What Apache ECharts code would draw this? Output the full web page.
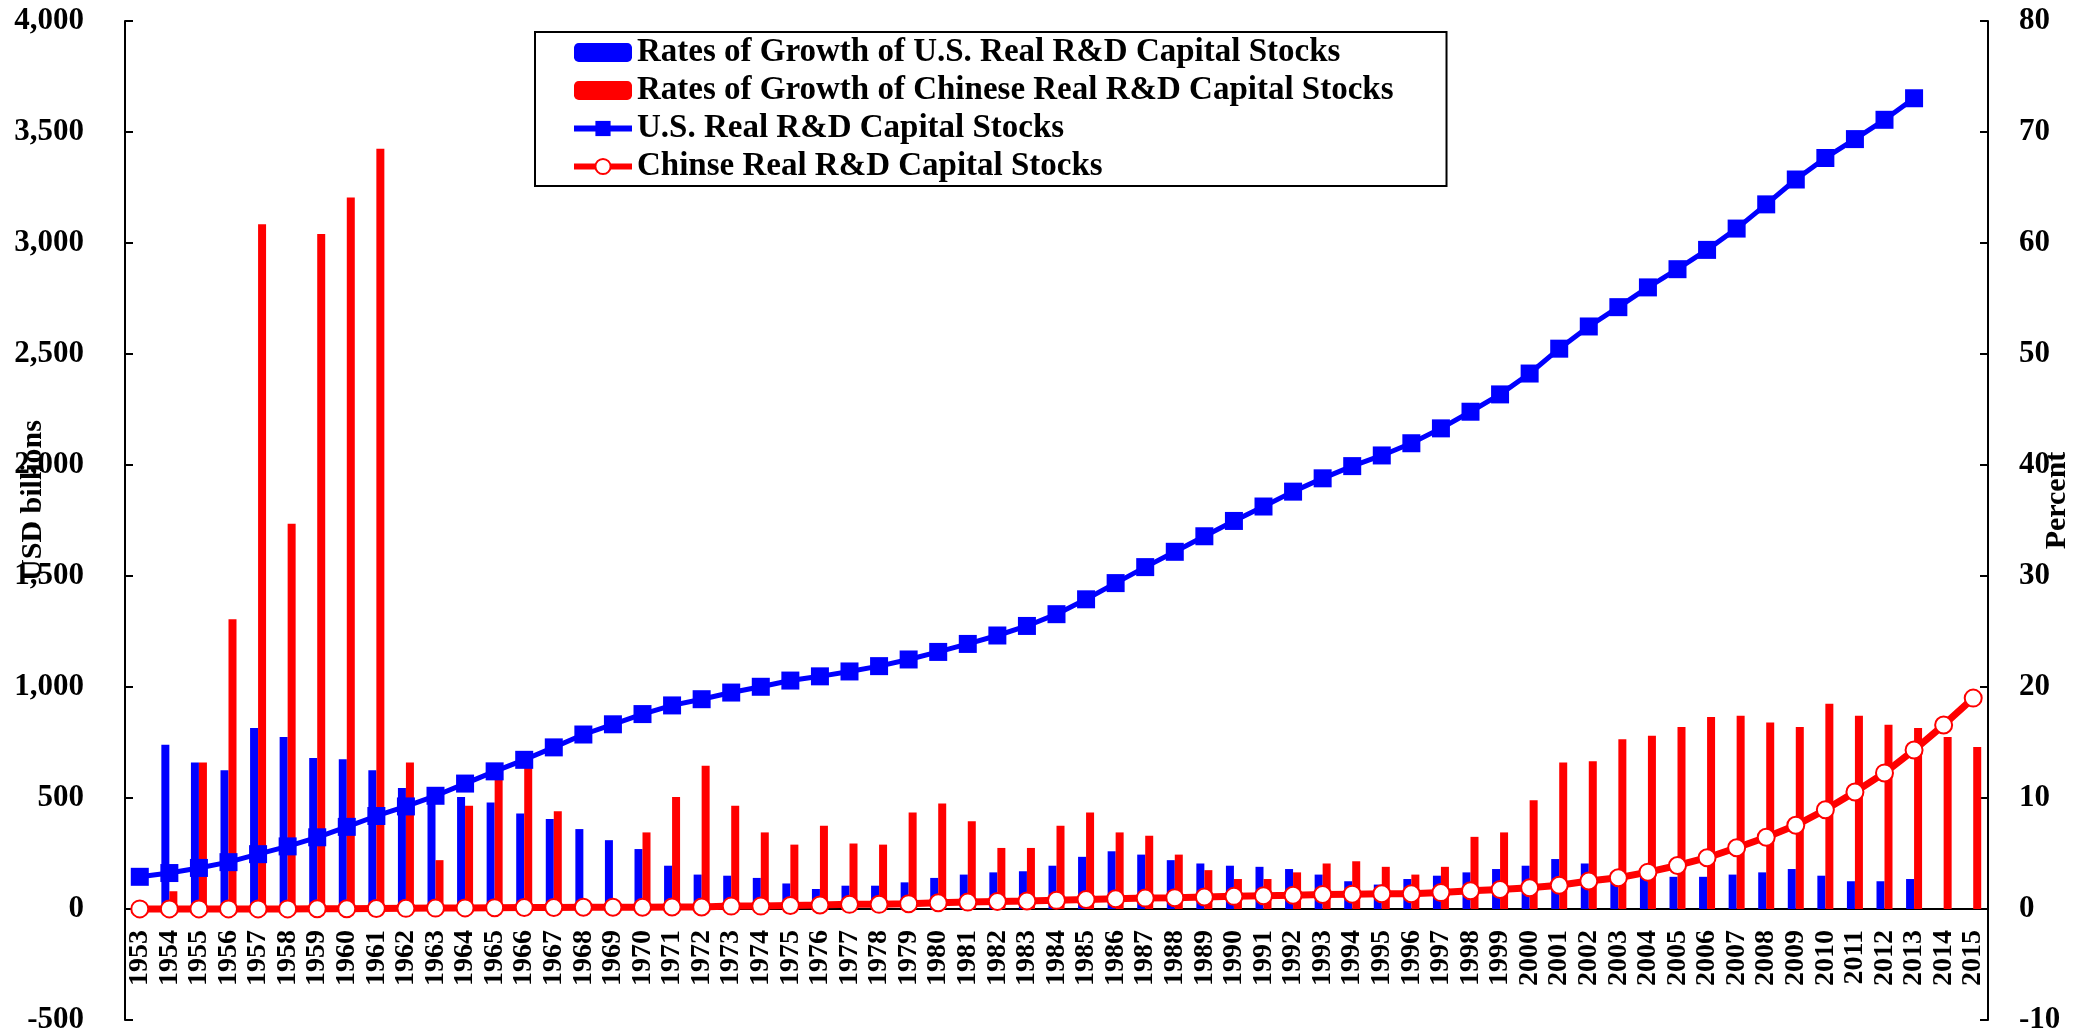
<!DOCTYPE html>
<html>
<head>
<meta charset="utf-8">
<title>R&amp;D Capital Stocks</title>
<script src="https://cdn.jsdelivr.net/npm/echarts@6/dist/echarts.min.js"></script>
<style>
  html, body { margin: 0; padding: 0; background: #fff; }
  #chart { width: 2073px; height: 1036px; }
</style>
</head>
<body>
<div id="chart"></div>
<script>
const years = ['1953', '1954', '1955', '1956', '1957', '1958', '1959', '1960', '1961', '1962',
  '1963', '1964', '1965', '1966', '1967', '1968', '1969', '1970', '1971', '1972',
  '1973', '1974', '1975', '1976', '1977', '1978', '1979', '1980', '1981', '1982',
  '1983', '1984', '1985', '1986', '1987', '1988', '1989', '1990', '1991', '1992',
  '1993', '1994', '1995', '1996', '1997', '1998', '1999', '2000', '2001', '2002',
  '2003', '2004', '2005', '2006', '2007', '2008', '2009', '2010', '2011', '2012',
  '2013', '2014', '2015']

// growth rates, percent (right axis)
const usGrowth = [null, 14.8, 13.2, 12.5, 16.3, 15.5, 13.6, 13.5, 12.5, 10.9,
  10.5, 10.1, 9.6, 8.6, 8.1, 7.2, 6.2, 5.4, 3.9, 3.1,
  3.0, 2.8, 2.3, 1.8, 2.1, 2.1, 2.4, 2.8, 3.1, 3.3,
  3.4, 3.9, 4.7, 5.2, 4.9, 4.4, 4.1, 3.9, 3.8, 3.6,
  3.1, 2.5, 2.2, 2.7, 3.0, 3.3, 3.6, 3.9, 4.5, 4.1,
  3.3, 3.1, 2.9, 2.9, 3.1, 3.3, 3.6, 3.0, 2.5, 2.5,
  2.7, null, null]
const cnGrowth = [null, 1.6, 13.2, 26.1, 61.7, 34.7, 60.8, 64.1, 68.5, 13.2,
  4.4, 9.3, 12.0, 13.0, 8.8, null, null, 6.9, 10.1, 12.9,
  9.3, 6.9, 5.8, 7.5, 5.9, 5.8, 8.7, 9.5, 7.9, 5.5,
  5.5, 7.5, 8.7, 6.9, 6.6, 4.9, 3.5, 2.7, 2.7, 3.3,
  4.1, 4.3, 3.8, 3.1, 3.8, 6.5, 6.9, 9.8, 13.2, 13.3,
  15.3, 15.6, 16.4, 17.3, 17.4, 16.8, 16.4, 18.5, 17.4, 16.6,
  16.3, 15.5, 14.6]

// capital stocks, USD billions (left axis)
const usStock = [145, 162, 185, 211, 247, 282, 323, 370, 419, 462,
  510, 565, 620, 672, 728, 786, 832, 878, 917, 945,
  975, 1001, 1029, 1048, 1070, 1094, 1124, 1158, 1194, 1232,
  1275, 1328, 1395, 1468, 1540, 1609, 1679, 1748, 1813, 1880,
  1940, 1995, 2043, 2098, 2165, 2240, 2318, 2412, 2524, 2624,
  2711, 2800, 2882, 2969, 3065, 3174, 3286, 3383, 3468, 3555,
  3652, null, null]
const cnStock = [0.5, 0.5, 0.5, 0.5, 0.5, 0.5, 1, 1, 2, 3,
  4, 5, 6, 7, 7, 8, 8, 8, 9, 9,
  13, 13, 16, 18, 21, 21, 24, 28, 31, 34,
  36, 39, 43, 46, 49, 51, 54, 57, 60, 62,
  65, 67, 69, 69, 74, 82, 88, 96, 107, 126,
  141, 166, 196, 231, 276, 323, 377, 447, 527, 613,
  716, 829, 950]

const fontFamily = "'Liberation Serif', 'Times New Roman', serif"
const blue = '#0000ff'
const red = '#ff0000'

const gridTop = 21
const gridBottom = 16
const chartHeight = 1036
// the category axis sits on the zero line, 500 units above the -500 floor
const zeroOffset = -Math.round((chartHeight - gridTop - gridBottom) * 500 / 4500)

const chart = echarts.init(document.getElementById('chart'))

const textBase = {
  fontFamily: fontFamily,
  fontWeight: 'bold',
  color: '#000'
}

chart.setOption({
  animation: false,
  backgroundColor: '#fff',
  grid: {
    left: 125,
    right: 85,
    top: gridTop,
    bottom: gridBottom,
    containLabel: false,
    outerBoundsMode: 'none'
  },
  legend: {
    orient: 'vertical',
    left: 535,
    top: 32,
    align: 'left',
    itemWidth: 58,
    itemHeight: 19,
    itemGap: 5,
    padding: [4, 53, 3, 36],
    borderColor: '#000',
    borderWidth: 2,
    lineStyle: { width: 6 },
    textStyle: Object.assign({ fontSize: 33, lineHeight: 33 }, textBase),
    data: [
      'Rates of Growth of U.S. Real R&D Capital Stocks',
      'Rates of Growth of Chinese Real R&D Capital Stocks',
      'U.S. Real R&D Capital Stocks',
      'Chinse Real R&D Capital Stocks'
    ]
  },
  xAxis: {
    type: 'category',
    data: years,
    boundaryGap: true,
    position: 'bottom',
    offset: zeroOffset,
    axisLine: {
      onZero: false,
      lineStyle: { color: '#000', width: 2 }
    },
    axisTick: {
      inside: true,
      length: 8,
      interval: 0,
      lineStyle: { color: '#000', width: 2 }
    },
    axisLabel: Object.assign({
      rotate: 90,
      interval: 0,
      margin: 21,
      fontSize: 28,
      hideOverlap: false
    }, textBase),
    splitLine: { show: false }
  },
  yAxis: [{
    type: 'value',
    position: 'left',
    min: -500,
    max: 4000,
    interval: 500,
    name: 'USD billions',
    nameLocation: 'middle',
    nameRotate: 90,
    nameGap: 77,
    nameMoveOverlap: false,
    nameTextStyle: Object.assign({ fontSize: 30, padding: [0, 0, 0, 40] }, textBase),
    axisLine: { show: true, lineStyle: { color: '#000', width: 2 } },
    axisTick: { show: true, inside: true, length: 8, lineStyle: { color: '#000', width: 2 } },
    axisLabel: Object.assign({
      margin: 41,
      fontSize: 31,
      formatter: (v) => v.toLocaleString('en-US')
    }, textBase),
    splitLine: { show: false }
  }, {
    type: 'value',
    position: 'right',
    min: -10,
    max: 80,
    interval: 10,
    name: 'Percent',
    nameLocation: 'middle',
    nameRotate: 90,
    nameGap: 54,
    nameMoveOverlap: false,
    nameTextStyle: Object.assign({ fontSize: 30, padding: [0, 0, 0, 40] }, textBase),
    axisLine: { show: true, lineStyle: { color: '#000', width: 2 } },
    axisTick: { show: true, inside: true, length: 8, lineStyle: { color: '#000', width: 2 } },
    axisLabel: Object.assign({ margin: 31, fontSize: 31 }, textBase),
    splitLine: { show: false }
  }],
  series: [{
    name: 'Rates of Growth of U.S. Real R&D Capital Stocks',
    type: 'bar',
    yAxisIndex: 1,
    barWidth: 8,
    barGap: '0%',
    itemStyle: { color: blue },
    data: usGrowth
  }, {
    name: 'Rates of Growth of Chinese Real R&D Capital Stocks',
    type: 'bar',
    yAxisIndex: 1,
    barWidth: 8,
    barGap: '0%',
    itemStyle: { color: red },
    data: cnGrowth
  }, {
    name: 'U.S. Real R&D Capital Stocks',
    type: 'line',
    yAxisIndex: 0,
    symbol: 'rect',
    symbolSize: 18,
    showAllSymbol: true,
    lineStyle: { color: blue, width: 5 },
    itemStyle: { color: blue },
    data: usStock
  }, {
    name: 'Chinse Real R&D Capital Stocks',
    type: 'line',
    yAxisIndex: 0,
    symbol: 'circle',
    symbolSize: 17,
    showAllSymbol: true,
    lineStyle: { color: red, width: 7 },
    itemStyle: { color: '#fff', borderColor: red, borderWidth: 2 },
    data: cnStock
  }]
})
</script>
</body>
</html>
